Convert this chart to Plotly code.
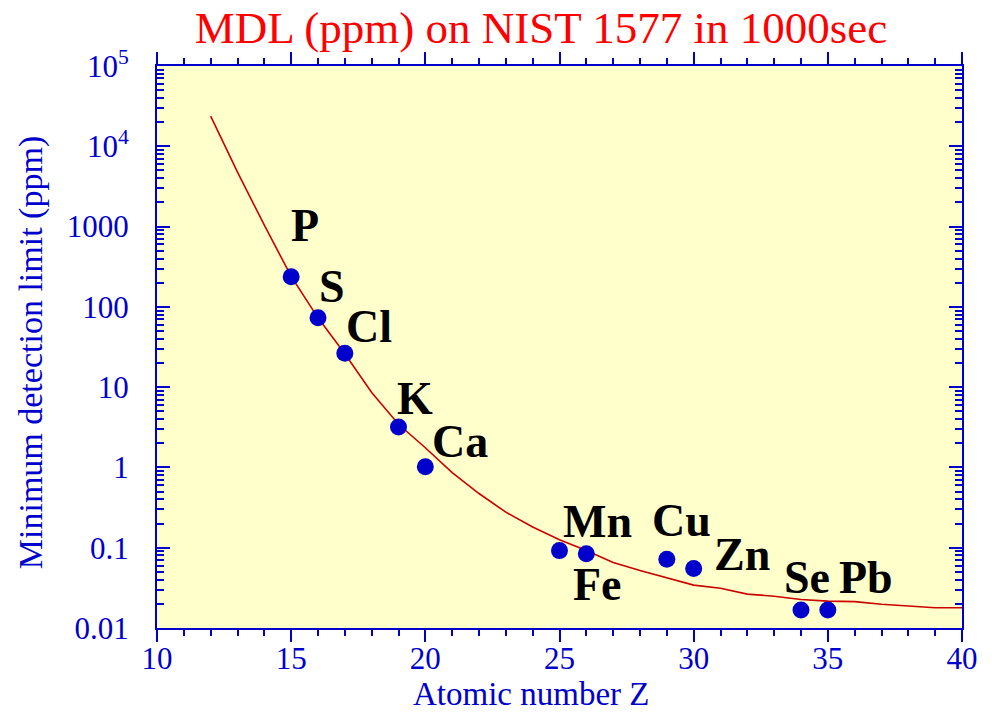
import plotly.graph_objects as go

# ---- data ----
elements = ["P", "S", "Cl", "K", "Ca", "Mn", "Fe", "Cu", "Zn", "Se", "Pb"]
z_points = [15, 16, 17, 19, 20, 25, 26, 29, 30, 34, 35]
mdl_points = [237, 73, 26.4, 3.19, 1.02, 0.092, 0.084, 0.072, 0.055, 0.0168, 0.0168]

curve_z = list(range(12, 41))
curve_mdl = [23700, 4770, 1040, 240, 73, 26, 8.6, 3.45, 1.76, 0.86, 0.473, 0.277,
             0.181, 0.126, 0.0925, 0.0655, 0.052, 0.0418, 0.0342, 0.0313, 0.0264,
             0.0249, 0.0226, 0.0216, 0.0213, 0.0198, 0.0188, 0.0179, 0.0179]

y_tickvals = [0.01, 0.1, 1, 10, 100, 1000, 1e4, 1e5]
y_ticktext = ["0.01", "0.1", "1", "10", "100", "1000", "10<sup>4</sup>", "10<sup>5</sup>"]
x_tickvals = [10, 15, 20, 25, 30, 35, 40]

title_text = "MDL (ppm) on NIST 1577 in 1000sec"
x_title = "Atomic number Z"
y_title = "Minimum detection limit (ppm)"

# ---- label placement (layout only: data coords, log10 for y) ----
label_pos = {
    "P": (15.52, 3.01), "S": (16.52, 2.25), "Cl": (17.90, 1.75), "K": (19.62, 0.86),
    "Ca": (21.29, 0.325), "Mn": (26.43, -0.675), "Fe": (26.43, -1.46),
    "Cu": (29.53, -0.66), "Zn": (31.80, -1.09), "Se": (34.22, -1.375), "Pb": (36.42, -1.375),
}

FONT = "Liberation Serif"
BLUE = "#0000CC"

fig = go.Figure()
fig.add_trace(go.Scatter(x=curve_z, y=curve_mdl, mode="lines",
                         line=dict(color="#CC0000", width=1.6), hoverinfo="skip"))
fig.add_trace(go.Scatter(x=z_points, y=mdl_points, mode="markers",
                         marker=dict(color=BLUE, size=17, line=dict(width=0)),
                         text=elements))

for el in elements:
    lx, ly = label_pos[el]
    fig.add_annotation(x=lx, y=ly, xref="x", yref="y", text="<b>%s</b>" % el,
                       showarrow=False, xanchor="center", yanchor="middle",
                       font=dict(family=FONT, size=46, color="black"))

fig.add_annotation(x=(531 - 157) / 805, y=-0.117, xref="paper", yref="paper",
                   text=x_title, showarrow=False, xanchor="center", yanchor="middle",
                   font=dict(family=FONT, size=33, color=BLUE))
fig.add_annotation(x=-0.157, y=0.49, xref="paper", yref="paper", textangle=-90,
                   text=y_title, showarrow=False, xanchor="center", yanchor="middle",
                   font=dict(family=FONT, size=34, color=BLUE))

y_minor = [m * 10 ** k for k in range(-2, 5) for m in range(2, 10)]

fig.update_layout(
    width=992, height=713,
    margin=dict(l=157, r=30, t=66, b=85),
    paper_bgcolor="white", plot_bgcolor="#FFFFCC",
    showlegend=False,
    title=dict(text=title_text, x=0.477, xref="paper", xanchor="center",
               y=1 - 27 / 713, yanchor="middle",
               font=dict(family=FONT, size=45, color="#FF0000")),
    xaxis=dict(range=[10, 40], tickvals=x_tickvals, ticks="outside", ticklen=12,
               tickwidth=2, tickcolor=BLUE, showline=True, linecolor=BLUE, linewidth=2,
               mirror="allticks", showgrid=False, zeroline=False, ticklabelstandoff=-10,
               tickfont=dict(family=FONT, size=31, color=BLUE),
               minor=dict(dtick=1, ticks="outside", ticklen=6, tickwidth=2,
                          tickcolor=BLUE, showgrid=False)),
    yaxis=dict(type="log", range=[-2, 5], tickvals=y_tickvals, ticktext=y_ticktext,
               ticks="inside", ticklen=13, tickwidth=2, tickcolor=BLUE,
               showline=True, linecolor=BLUE, linewidth=2, mirror="allticks",
               showgrid=False, zeroline=False, ticklabelstandoff=20,
               tickfont=dict(family=FONT, size=31, color=BLUE),
               minor=dict(tickvals=y_minor, ticks="inside", ticklen=7, tickwidth=2,
                          tickcolor=BLUE, showgrid=False)),
)

fig.write_html("out.html")
